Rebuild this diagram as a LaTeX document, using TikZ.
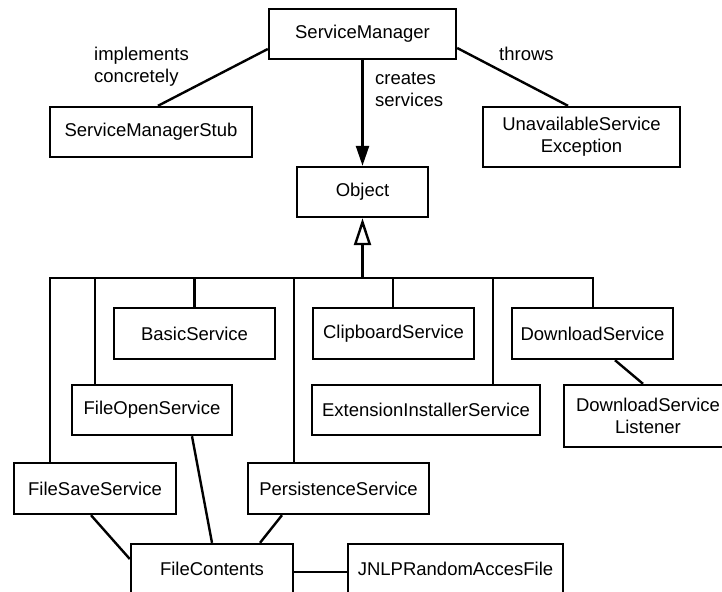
\documentclass[tikz,border=0pt]{standalone}
\usepackage{fontspec}
\setmainfont{Liberation Sans}
\usetikzlibrary{arrows.meta}
\begin{document}
\begin{tikzpicture}[x=1pt,y=-1pt,
  box/.style={draw, line width=2.4pt, minimum height=50pt, inner sep=0pt, font=\fontsize{18.5}{22}\selectfont, align=center},
  lbl/.style={inner sep=0pt, font=\fontsize{18.5}{22}\selectfont, align=left, anchor=west},
  con/.style={line width=2.4pt}
]
\useasboundingbox (0,0) rectangle (722,591);
\clip (0,0) rectangle (722,591);
% nodes
\node[box, minimum width=187pt] (sm) at (362.5,34) {ServiceManager};
\node[box, minimum width=202pt] (stub) at (151,132) {ServiceManagerStub};
\node[box, minimum width=197pt, minimum height=60pt] (use) at (581.5,137) {UnavailableService\\Exception};
\node[box, minimum width=131pt] (obj) at (362.5,192) {Object};
\node[box, minimum width=161pt, minimum height=51pt] (basic) at (194.5,333.5) {BasicService};
\node[box, minimum width=161pt, minimum height=51pt] (clip) at (393.5,333.5) {ClipboardService};
\node[box, minimum width=161pt, minimum height=51pt] (dl) at (592.5,333.5) {DownloadService};
\node[box, minimum width=160pt] (fo) at (152,410) {FileOpenService};
\node[box, minimum width=228pt] (ext) at (426,410) {ExtensionInstallerService};
\node[box, minimum width=168pt, minimum height=62pt] (dsl) at (648,416) {DownloadService\\Listener};
\node[box, minimum width=162pt, minimum height=51pt] (fs) at (95,488.5) {FileSaveService};
\node[box, minimum width=181pt, minimum height=51pt] (pers) at (338.5,488.5) {PersistenceService};
\node[box, minimum width=162pt] (fc) at (212,569) {FileContents};
\node[box, minimum width=215pt] (jnlp) at (455.5,569) {JNLPRandomAccesFile};
% labels
\node[lbl] (limp) at (94,66.5) {implements\\concretely};
\node[lbl] (lcre) at (375,89.5) {creates\\services};
\node[lbl] (lthr) at (499,54) {throws};
% top connectors
\draw[con] ([yshift=-15pt]sm.west) -- ([xshift=7pt]stub.north);
\draw[con] ([yshift=-14pt]sm.east) -- ([xshift=-13.5pt]use.north);
\draw[con, -{Triangle[length=20pt,width=13pt]}] (sm.south) -- (obj.north);
% inheritance bus
\coordinate (stem) at (362.5,278);
\draw[con, {Triangle[open,length=27pt,width=17pt,fill=white]}-] (obj.south) -- (stem);
\coordinate (b1) at (50,278);
\coordinate (b2) at (95,278);
\coordinate (b3) at (194.5,278);
\coordinate (b4) at (294,278);
\coordinate (b5) at (393,278);
\coordinate (b6) at (493,278);
\coordinate (b7) at (593,278);
\draw[con, line join=miter] (b1 |- fs.north) -- (b1) -- (b7) -- (b7 |- dl.north);
\draw[con] (b2) -- (b2 |- fo.north);
\draw[con] (b3) -- (b3 |- basic.north);
\draw[con] (b4) -- (b4 |- pers.north);
\draw[con] (b5) -- (b5 |- clip.north);
\draw[con] (b6) -- (b6 |- ext.north);
% other associations
\draw[con] ([xshift=22.5pt]dl.south) -- ([xshift=-5pt]dsl.north);
\draw[con] ([xshift=40pt]fo.south) -- (fc.north);
\draw[con] ([xshift=-4pt]fs.south) -- ([yshift=10pt]fc.west);
\draw[con] ([xshift=-56.5pt]pers.south) -- ([xshift=48pt]fc.north);
\draw[con] ([yshift=-3pt]fc.east) -- ([yshift=-3pt]jnlp.west);
\end{tikzpicture}
\end{document}
